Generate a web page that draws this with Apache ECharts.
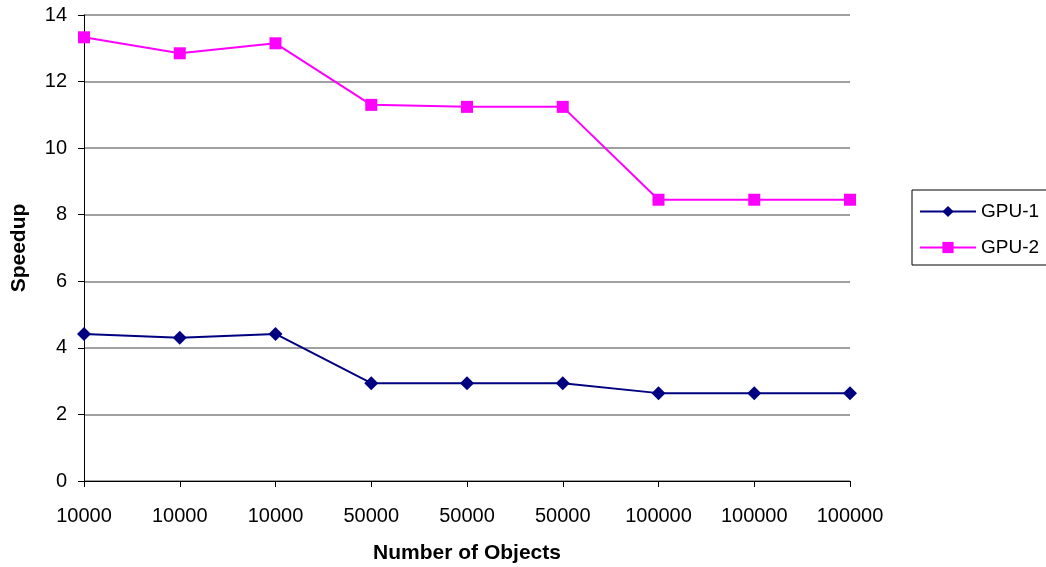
<!DOCTYPE html>
<html>
<head>
<meta charset="utf-8">
<script src="https://cdn.jsdelivr.net/npm/echarts@6/dist/echarts.min.js"></script>
<style>
  html, body { margin: 0; padding: 0; background: #fff; }
  #chart { width: 1046px; height: 567px; }
</style>
</head>
<body>
<div id="chart"></div>
<script>
// Problem sizes (x categories) and measured speedups per GPU
const categories = ['10000', '10000', '10000', '50000', '50000', '50000', '100000', '100000', '100000'];
const gpu1 = [4.42, 4.30, 4.42, 2.94, 2.94, 2.94, 2.64, 2.64, 2.64];
const gpu2 = [13.33, 12.85, 13.15, 11.30, 11.24, 11.24, 8.45, 8.45, 8.45];
const yTicks = [0, 2, 4, 6, 8, 10, 12, 14];

const FONT = '"Liberation Sans", Arial, sans-serif';

const chart = echarts.init(document.getElementById('chart'), null, { renderer: 'canvas' });

chart.setOption({
  animation: false,
  backgroundColor: '#ffffff',
  textStyle: { fontFamily: FONT, color: '#000' },
  grid: { left: 84, right: 196, top: 15, bottom: 86, containLabel: false, outerBoundsMode: 'none' },
  legend: {
    orient: 'vertical',
    left: 912,
    top: 190,
    padding: [12, 12, 8, 7],
    itemGap: 17,
    itemWidth: 56,
    itemHeight: 14,
    borderColor: '#000',
    borderWidth: 1,
    backgroundColor: '#fff',
    textStyle: { fontFamily: FONT, fontSize: 19, color: '#000' },
    data: ['GPU-1', 'GPU-2']
  },
  xAxis: {
    type: 'category',
    data: categories,
    boundaryGap: false,
    name: 'Number of Objects',
    nameLocation: 'middle',
    nameGap: 62,
    nameTextStyle: { fontFamily: FONT, fontSize: 21, fontWeight: 'bold', color: '#000' },
    axisLine: { show: true, lineStyle: { color: '#000', width: 1 } },
    axisTick: { show: true, alignWithLabel: true, length: 6, lineStyle: { color: '#000' } },
    axisLabel: { fontFamily: FONT, fontSize: 20, color: '#000', margin: 25 },
    splitLine: { show: false }
  },
  yAxis: {
    type: 'value',
    min: yTicks[0],
    max: yTicks[yTicks.length - 1],
    interval: 2,
    name: 'Speedup',
    nameLocation: 'middle',
    nameGap: 54,
    nameRotate: 90,
    nameTextStyle: { fontFamily: FONT, fontSize: 21, fontWeight: 'bold', color: '#000' },
    axisLine: { show: true, lineStyle: { color: '#000', width: 1 } },
    axisTick: { show: true, length: 6, lineStyle: { color: '#000' } },
    axisLabel: { fontFamily: FONT, fontSize: 20, color: '#000', margin: 17 },
    splitLine: { show: true, lineStyle: { color: '#808080', width: 1.5 } }
  },
  series: [
    {
      name: 'GPU-1',
      type: 'line',
      data: gpu1,
      symbol: 'diamond',
      symbolSize: 14,
      color: '#000080',
      lineStyle: { color: '#000080', width: 2 },
      itemStyle: { color: '#000080' },
      z: 3
    },
    {
      name: 'GPU-2',
      type: 'line',
      data: gpu2,
      symbol: 'rect',
      symbolSize: 12,
      color: '#ff00ff',
      lineStyle: { color: '#ff00ff', width: 2 },
      itemStyle: { color: '#ff00ff' },
      z: 3
    }
  ]
});
</script>
</body>
</html>
